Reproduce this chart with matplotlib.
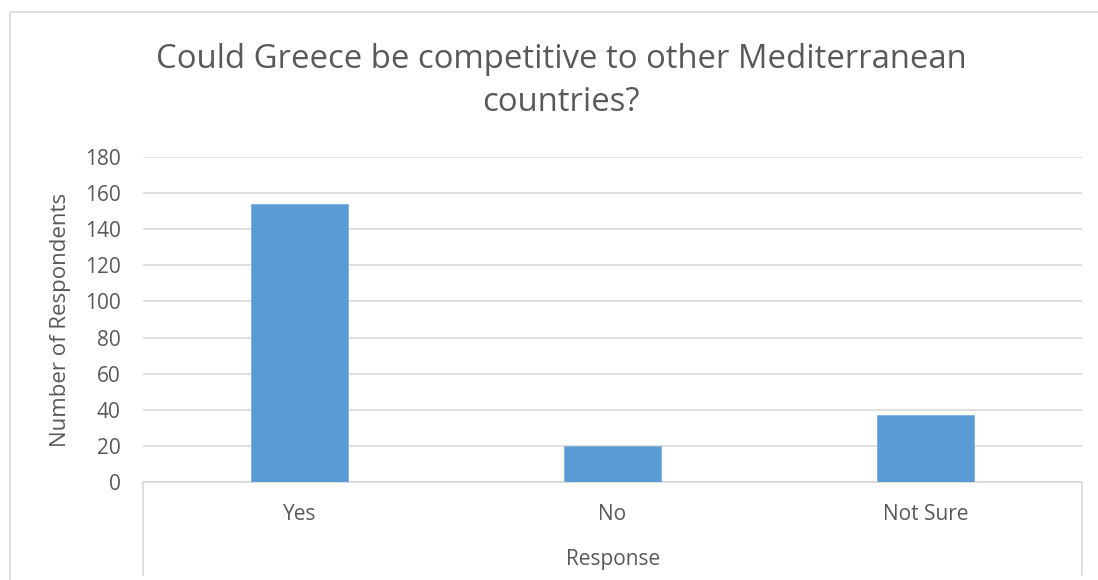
import matplotlib
matplotlib.use("Agg")
import matplotlib.pyplot as plt
import matplotlib.transforms as mtransforms
from matplotlib.patches import Rectangle

# survey answers
categories = ["Yes", "No", "Not Sure"]
respondents = [154, 20, 37]
yticks = [0, 20, 40, 60, 80, 100, 120, 140, 160, 180]

plt.rcParams["font.family"] = ["Open Sans", "DejaVu Sans"]
txt = "#595959"
grid = "#d9d9d9"

W, H = 1098, 580
fig = plt.figure(figsize=(W / 100, H / 100), dpi=100)

# outer chart border
fig.patches.append(Rectangle((10 / W, -0.1), 1.2, (H - 12) / H + 0.1,
                             transform=fig.transFigure, fill=False,
                             edgecolor=grid, linewidth=1.2))

ax = fig.add_axes([143 / W, 98 / H, (1082 - 143) / W, (482 - 157) / H])
x = range(len(categories))
ax.bar(x, respondents, width=0.313, color="#5b9bd5", edgecolor="#7fb0dd",
       linewidth=0.6, zorder=3)
ax.set_xlim(-0.5, len(categories) - 0.5)
ax.set_ylim(0, 180)
ax.set_yticks(yticks)
ax.yaxis.grid(True, color=grid, linewidth=1.2, zorder=0)
ax.set_xticks(list(x))
ax.set_xticklabels(categories)
ax.tick_params(length=0, colors=txt, labelsize=15)
ax.tick_params(axis="x", pad=16)
ax.tick_params(axis="y", pad=16)
for s in ["top", "left", "right"]:
    ax.spines[s].set_visible(False)
ax.spines["bottom"].set_color(grid)
ax.spines["bottom"].set_linewidth(1.2)

# category box lines below the axis
trans = mtransforms.blended_transform_factory(ax.transData, ax.transAxes)
for xe in [-0.5, len(categories) - 0.5]:
    ax.plot([xe, xe], [0, -93 / 325], transform=trans, color=grid,
            linewidth=1.2, clip_on=False)

ax.set_ylabel("Number of Respondents", fontsize=16, color=txt)
ax.yaxis.set_label_coords((71 - 143) / (1082 - 143), 0.5)
fig.text(613 / W, 1 - 560 / H, "Response", ha="center", va="center",
         fontsize=15, color=txt)
fig.text(561 / W, 1 - 81 / H, "Could Greece be competitive to other Mediterranean\ncountries?",
         ha="center", va="center", fontsize=23.7, color=txt, linespacing=1.4)

fig.savefig("out.png", dpi=100)
